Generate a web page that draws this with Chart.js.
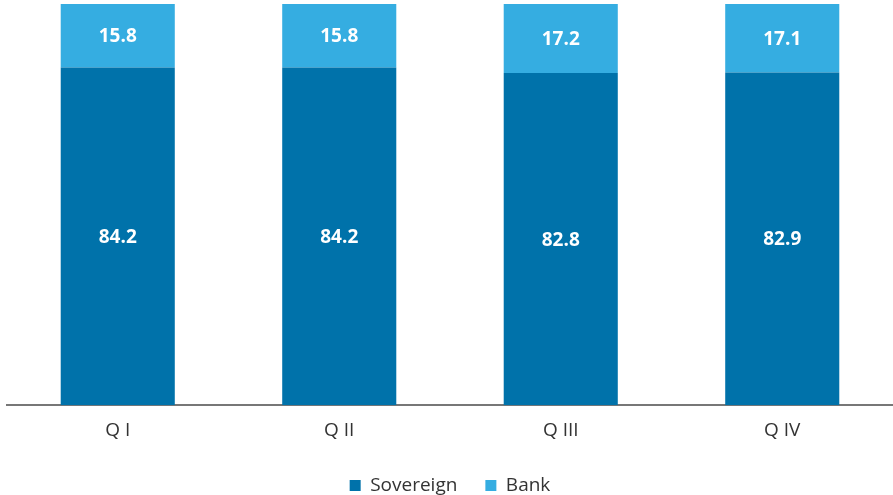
<!DOCTYPE html>
<html>
<head>
<meta charset="utf-8">
<script src="https://cdn.jsdelivr.net/npm/chart.js@4"></script>
<style>
  html, body { margin: 0; padding: 0; background: #fff; }
  #wrap { width: 893px; height: 495px; }
</style>
</head>
<body>
<div id="wrap"><canvas id="chart"></canvas></div>
<script>
const quarters = ['Q I', 'Q II', 'Q III', 'Q IV'];
const sovereign = [84.2, 84.2, 82.8, 82.9];
const bank = [15.8, 15.8, 17.2, 17.1];

const valueLabels = {
  id: 'valueLabels',
  afterDatasetsDraw(chart) {
    const ctx = chart.ctx;
    ctx.save();
    ctx.font = 'bold 19px "Open Sans"';
    ctx.fillStyle = '#fff';
    ctx.textAlign = 'center';
    ctx.textBaseline = 'middle';
    chart.data.datasets.forEach((ds, i) => {
      chart.getDatasetMeta(i).data.forEach((bar, j) => {
        const y = (bar.y + bar.base) / 2 + 1;
        ctx.fillText(ds.data[j].toFixed(1), bar.x, y);
      });
    });
    ctx.restore();
  }
};

new Chart(document.getElementById('chart'), {
  type: 'bar',
  data: {
    labels: quarters,
    datasets: [
      { label: 'Sovereign', data: sovereign, backgroundColor: '#0072aa' },
      { label: 'Bank', data: bank, backgroundColor: '#35ade1' }
    ]
  },
  options: {
    responsive: true,
    maintainAspectRatio: false,
    animation: false,
    layout: { padding: { top: 4, left: 7, right: 0, bottom: -10 } },
    datasets: { bar: { categoryPercentage: 1, barPercentage: 0.515 } },
    scales: {
      x: {
        stacked: true,
        grid: { display: false },
        border: { display: true, color: '#777', width: 2 },
        ticks: { color: '#333', font: { family: 'Open Sans', size: 19 }, padding: 6 }
      },
      y: {
        stacked: true,
        display: false,
        min: 0,
        max: 100
      }
    },
    plugins: {
      legend: {
        position: 'bottom',
        labels: {
          boxWidth: 11,
          boxHeight: 11,
          padding: 28,
          color: '#333',
          font: { family: 'Open Sans', size: 19 }
        }
      },
      tooltip: { enabled: false }
    }
  },
  plugins: [valueLabels]
});
</script>
</body>
</html>
